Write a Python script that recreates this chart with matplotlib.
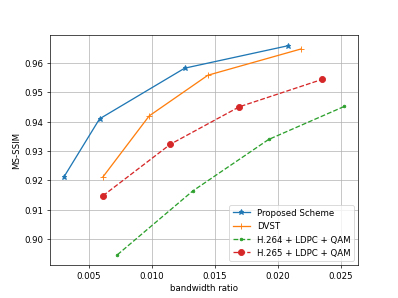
import matplotlib
matplotlib.use("Agg")
import matplotlib.pyplot as plt

prop_x = [0.00303, 0.00587, 0.01263, 0.02082]
prop_y = [0.9211, 0.9409, 0.9581, 0.9657]

dvst_x = [0.00614, 0.00981, 0.01447, 0.02185]
dvst_y = [0.9212, 0.9419, 0.9557, 0.9646]

h264_x = [0.00729, 0.01326, 0.01929, 0.02529]
h264_y = [0.8948, 0.9164, 0.9339, 0.9451]

h265_x = [0.00614, 0.01150, 0.01697, 0.02355]
h265_y = [0.9148, 0.9323, 0.9450, 0.9543]

fig, ax = plt.subplots(figsize=(6.4, 4.8), dpi=398/6.4)
ax.plot(prop_x, prop_y, marker='*', color='tab:blue', label='Proposed Scheme')
ax.plot(dvst_x, dvst_y, marker='+', color='tab:orange', label='DVST')
ax.plot(h264_x, h264_y, '--', marker='.', color='tab:green', label='H.264 + LDPC + QAM')
ax.plot(h265_x, h265_y, '--', marker='o', markersize=7, color='tab:red', label='H.265 + LDPC + QAM')
ax.set_xlabel('bandwidth ratio')
ax.set_ylabel('MS-SSIM')
ax.grid(True)
ax.legend(loc='lower right')
fig.savefig('out.png', dpi=398/6.4)
